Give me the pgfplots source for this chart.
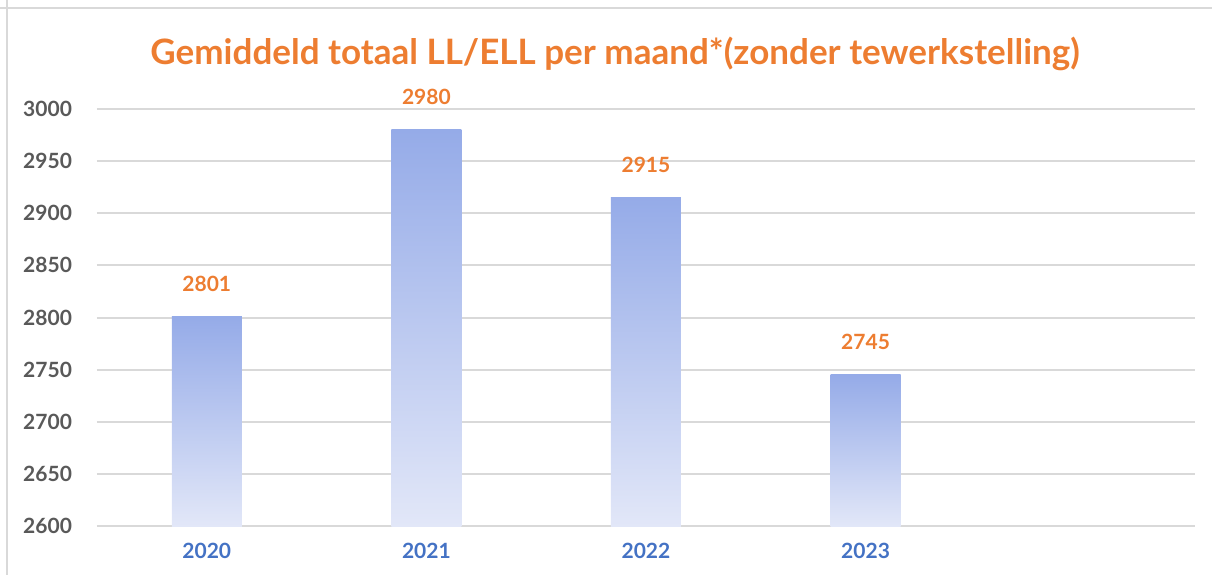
\documentclass[border=0pt]{standalone}
\usepackage{fontspec}
\setmainfont{Lato}
\usepackage{pgfplots}
\pgfplotsset{compat=1.18}
\definecolor{ttl}{HTML}{ED7D31}
\definecolor{xlab}{HTML}{4472C4}
\definecolor{ylab}{HTML}{595959}
\definecolor{gridc}{HTML}{D9D9D9}
\definecolor{bartop}{HTML}{95ABE8}
\definecolor{barbot}{HTML}{E2E7F8}
\begin{document}
\begin{tikzpicture}
\path[use as bounding box] (0,0) rectangle (606pt,-287.5pt);
\draw[gridc, line width=1pt] (0,-3.75pt) -- (606pt,-3.75pt);
\draw[gridc, line width=1pt] (3.25pt,0) -- (3.25pt,-287.5pt);
\node[font=\bfseries\fontsize{17.5}{19}\selectfont, text=ttl] at (307.5pt,-27pt) {Gemiddeld totaal LL/ELL per maand*(zonder tewerkstelling)};
\begin{axis}[
  at={(48.5pt,-263pt)}, anchor=south west,
  scale only axis, width=549pt, height=208.5pt,
  xmin=-0.5, xmax=4.5, ymin=0, ymax=400,
  ytick={0,50,...,400},
  yticklabels={2600,2650,2700,2750,2800,2850,2900,2950,3000},
  xtick={0,1,2,3}, xticklabels={2020,2021,2022,2023},
  axis line style={draw=none},
  major tick length=0pt,
  ymajorgrids, grid style={gridc, line width=1pt},
  /pgf/number format/assume math mode=true,
  /pgf/number format/1000 sep={},
  yticklabel style={font=\bfseries\fontsize{10.5}{12}\selectfont, text=ylab, xshift=-9pt},
  xticklabel style={font=\bfseries\fontsize{10.5}{12}\selectfont, text=xlab, yshift=-5pt},
  ybar, bar width=35pt, bar shift=0pt,
  nodes near coords,
  point meta=explicit,
  every node near coord/.append style={font=\bfseries\fontsize{10.5}{12}\selectfont, text=ttl, yshift=9pt},
  clip=false,
]
\addplot[draw=none, top color=bartop, bottom color=barbot] table[x=x, y expr=\thisrow{y}-2600, meta=y] {
x y
0 2801
};
\addplot[draw=none, top color=bartop, bottom color=barbot] table[x=x, y expr=\thisrow{y}-2600, meta=y] {
x y
1 2980
};
\addplot[draw=none, top color=bartop, bottom color=barbot] table[x=x, y expr=\thisrow{y}-2600, meta=y] {
x y
2 2915
};
\addplot[draw=none, top color=bartop, bottom color=barbot] table[x=x, y expr=\thisrow{y}-2600, meta=y] {
x y
3 2745
};
\end{axis}
\end{tikzpicture}
\end{document}
